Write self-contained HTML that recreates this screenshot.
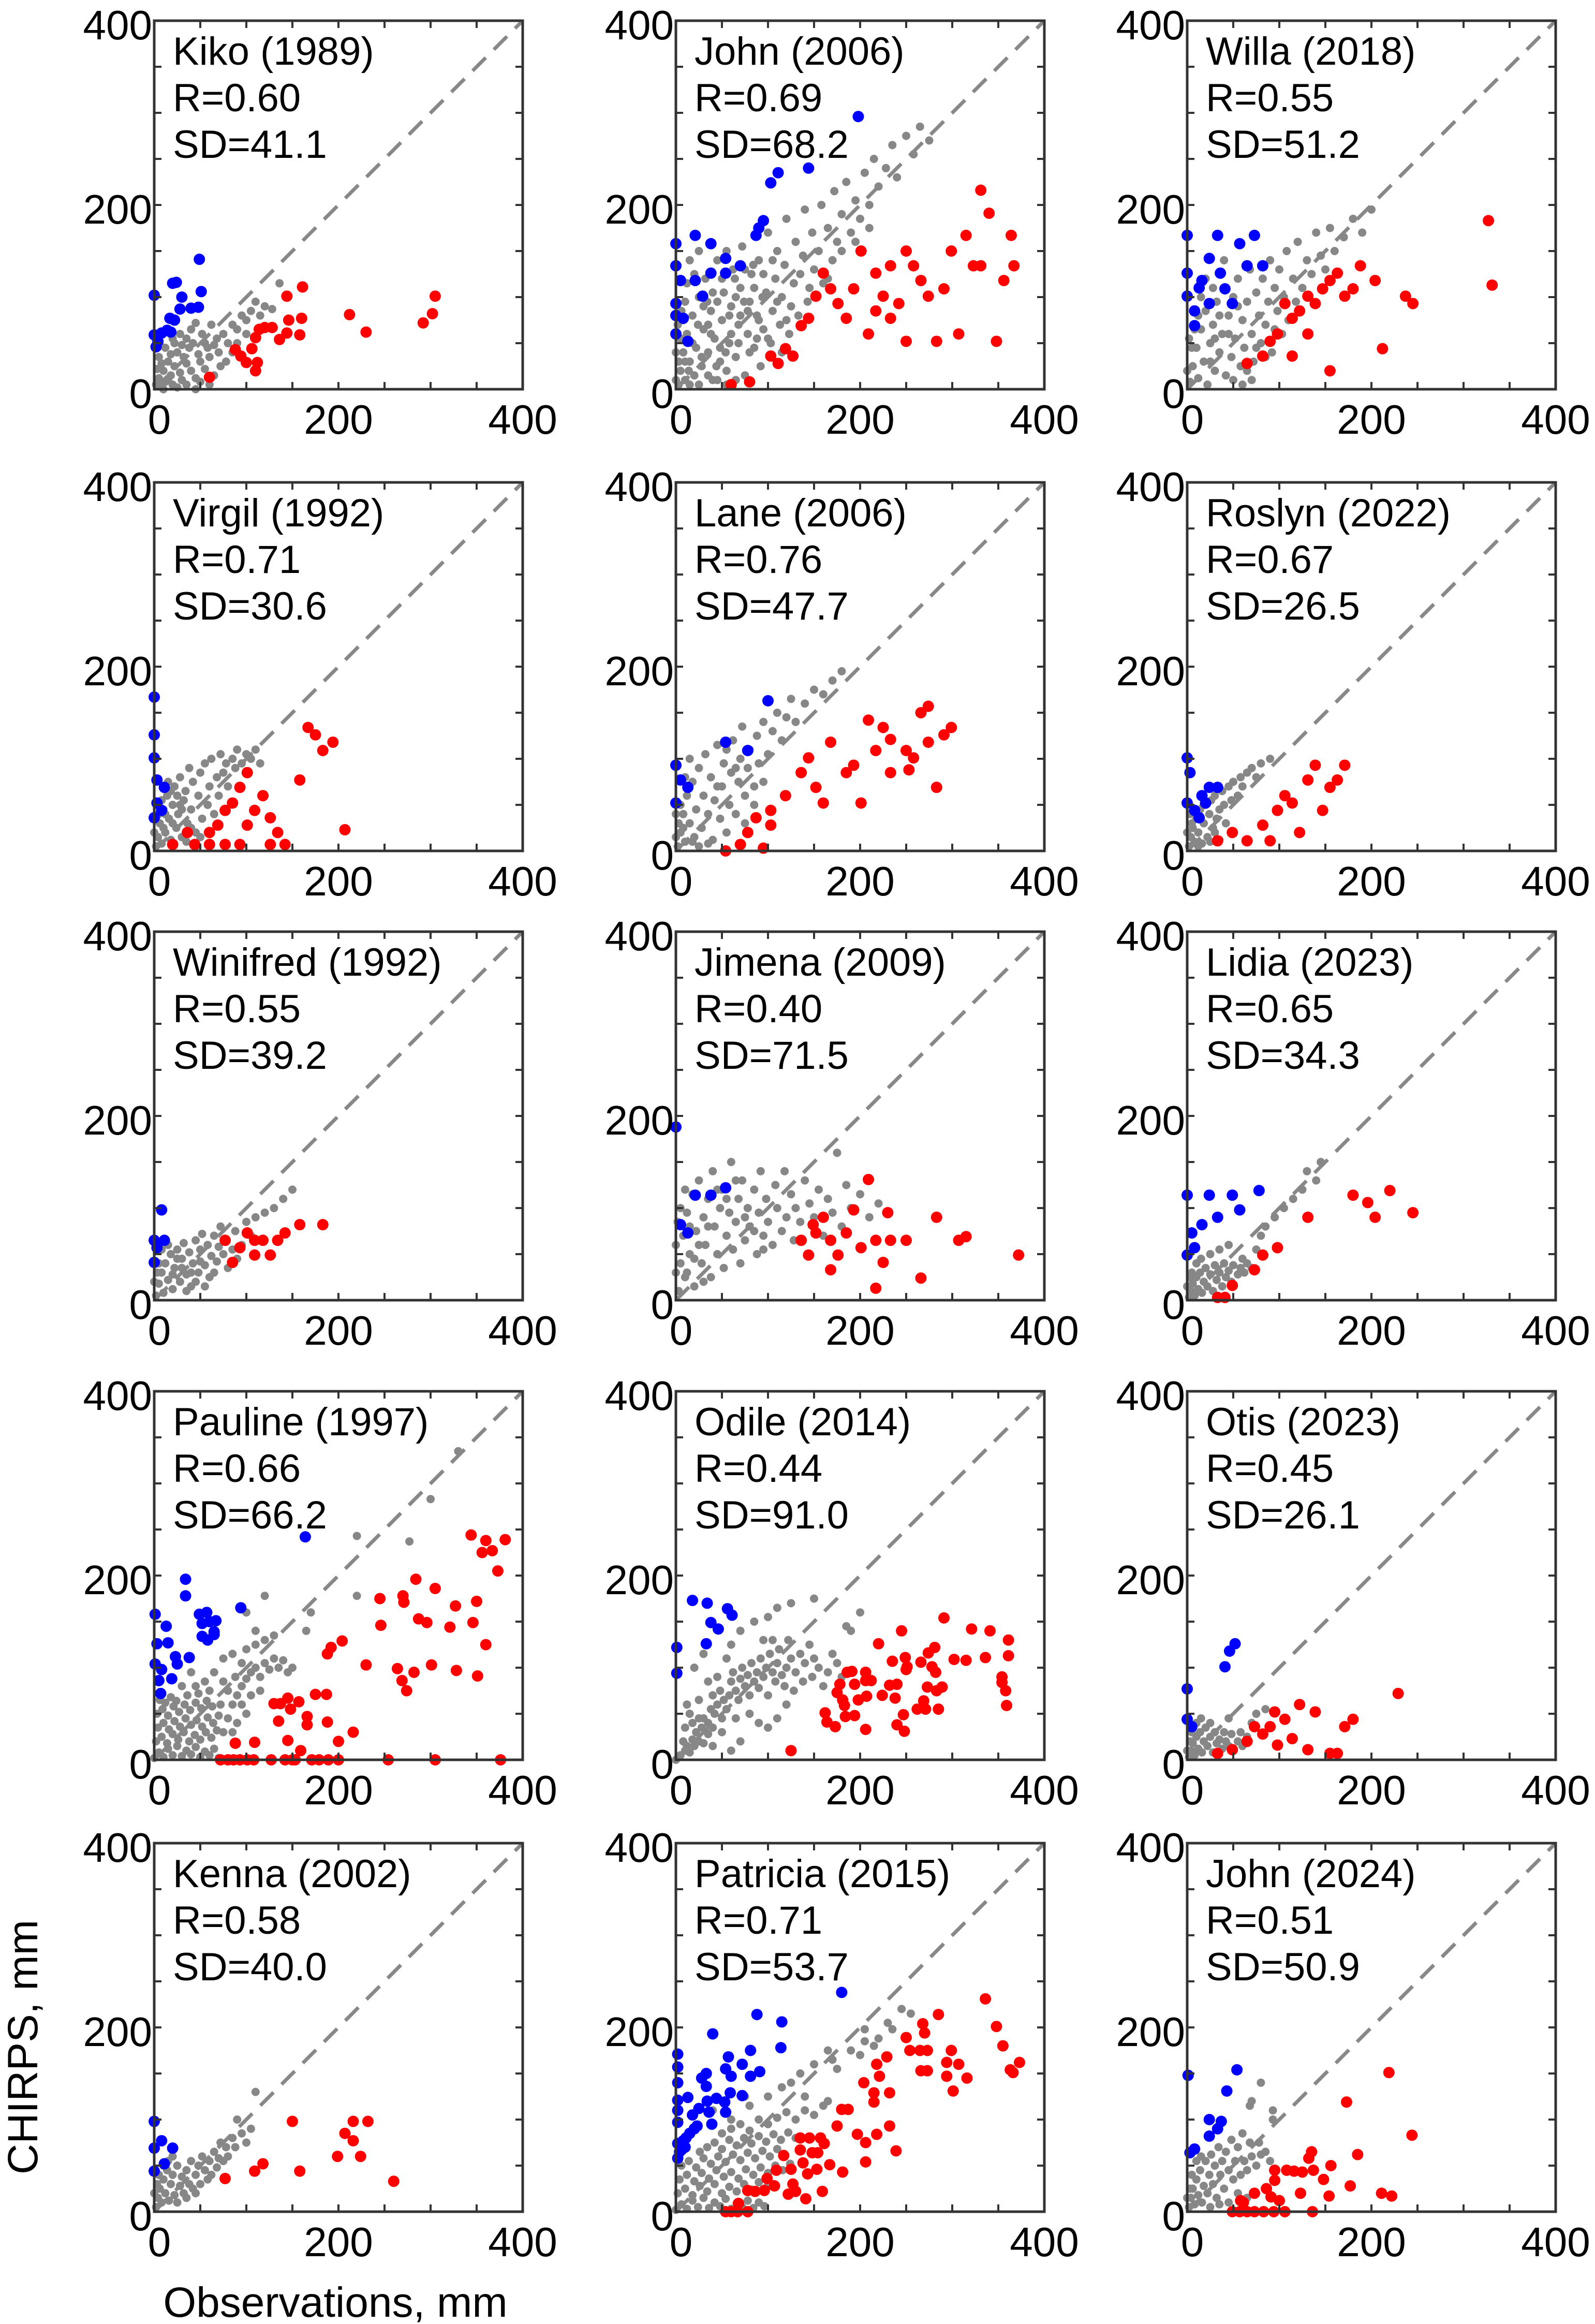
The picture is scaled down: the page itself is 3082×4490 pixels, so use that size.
<!DOCTYPE html>
<html><head><meta charset="utf-8"><style>
html,body{margin:0;padding:0;background:#fff;}
svg{display:block;font-family:"Liberation Sans",Arial,sans-serif;}
</style></head><body>
<svg id="fig" width="3082" height="4490" viewBox="0 0 3082 4490" xmlns="http://www.w3.org/2000/svg">
<rect width="3082" height="4490" fill="#fff"/>
<text x="72" y="3955" font-size="82" text-anchor="middle" transform="rotate(-90 72 3955)">CHIRPS, mm</text>
<text x="648" y="4476" font-size="82" text-anchor="middle">Observations, mm</text>
</svg>
<script>
const stormNames=["Kiko (1989)","John (2006)","Willa (2018)","Virgil (1992)","Lane (2006)","Roslyn (2022)","Winifred (1992)","Jimena (2009)","Lidia (2023)","Pauline (1997)","Odile (2014)","Otis (2023)","Kenna (2002)","Patricia (2015)","John (2024)"];
const rValues=["0.60","0.69","0.55","0.71","0.76","0.67","0.55","0.40","0.65","0.66","0.44","0.45","0.58","0.71","0.51"];
const sdValues=["41.1","68.2","51.2","30.6","47.7","26.5","39.2","71.5","34.3","66.2","91.0","26.1","40.0","53.7","50.9"];
const tickLabels=["0","200","400"];
const tickValues=[0,200,400];

const kikoGray=[[2,5],[5,12],[8,3],[10,20],[12,8],[15,30],[18,15],[20,5],[22,25],[25,40],[28,18],[30,10],[32,35],[35,28],[38,45],[40,20],[42,50],[45,12],[48,38],[50,30],[52,60],[55,22],[58,45],[60,35],[62,70],[65,15],[68,55],[70,40],[72,25],[75,60],[80,50],[85,70],[90,65],[95,80],[100,75],[105,85],[110,95],[115,80],[120,90],[128,87],[136,115],[5,35],[8,28],[12,45],[15,10],[3,22],[6,48],[18,38],[22,50],[28,60],[35,55],[40,65],[45,72],[25,2],[35,5],[50,8],[60,5],[45,0],[10,0],[20,55],[30,48],[55,50],[65,48],[78,30],[85,40],[90,50],[100,60]];
const kikoBlue=[[0,102],[0,59],[2,46],[20,115],[24,116],[30,100],[28,87],[40,88],[48,89],[49,141],[51,106],[17,77],[22,75],[14,64],[8,61],[18,62],[4,52]];
const kikoRed=[[60,13],[88,43],[94,36],[100,29],[110,20],[112,29],[106,44],[110,56],[114,65],[120,67],[128,67],[136,54],[144,101],[146,75],[144,61],[158,59],[160,77],[161,111],[212,81],[230,62],[292,72],[302,82],[305,101]];

const john06Gray=[[3,5],[5,20],[8,40],[10,10],[12,60],[15,30],[18,80],[20,15],[22,45],[25,100],[28,25],[30,65],[32,120],[35,40],[38,85],[40,10],[42,55],[45,140],[48,30],[50,75],[52,105],[55,20],[58,50],[60,90],[62,130],[65,35],[68,70],[70,110],[72,155],[75,15],[78,60],[80,95],[82,125],[85,45],[88,80],[90,140],[92,25],[95,65],[98,105],[100,170],[103,50],[105,85],[108,120],[110,150],[113,70],[115,100],[118,135],[120,185],[123,60],[125,90],[128,115],[130,160],[133,80],[135,125],[138,145],[140,195],[143,95],[145,110],[148,170],[150,130],[155,150],[158,200],[160,115],[165,175],[170,140],[172,215],[175,160],[180,190],[185,225],[190,170],[195,205],[200,185],[205,235],[210,200],[215,250],[220,220],[228,240],[235,265],[240,230],[250,275],[258,255],[265,285],[275,270],[5,55],[8,75],[10,95],[12,115],[15,140],[3,30],[20,125],[25,150],[30,90],[35,70],[40,105],[45,95],[50,120],[55,150],[60,60],[65,100],[70,80],[75,130],[80,40],[85,110],[90,75],[95,125],[100,55],[105,140],[110,95],[115,40],[120,75],[0,10],[0,40],[2,70],[10,30],[15,5],[25,5],[35,15],[45,10],[55,5],[65,10],[180,150],[165,120],[195,160],[210,175],[18,50],[28,35],[38,60],[48,45],[58,80],[68,50],[78,85],[88,55],[6,85],[14,20],[24,70],[34,95],[44,25],[54,40],[64,120],[74,95],[84,135],[94,100]];
const john06Blue=[[0,158],[0,134],[5,118],[0,93],[8,77],[21,167],[38,158],[54,126],[38,126],[21,118],[70,134],[87,167],[95,183],[103,224],[111,235],[144,240],[90,175],[13,52],[29,101],[54,142],[198,296],[0,80],[0,60]];
const john06Red=[[111,28],[119,44],[136,69],[144,77],[152,101],[168,109],[176,93],[160,126],[193,109],[201,150],[217,85],[225,101],[233,77],[242,93],[250,150],[258,134],[266,118],[274,101],[283,52],[299,150],[315,167],[323,134],[331,216],[340,191],[348,52],[356,118],[364,167],[367,134],[127,36],[103,36],[307,60],[209,60],[250,52],[185,77],[233,134],[291,109],[331,134],[217,126],[60,5],[80,8]];

const willaGray=[[3,8],[6,25],[10,45],[12,12],[15,65],[18,30],[20,85],[22,5],[25,50],[28,70],[30,20],[32,95],[35,40],[38,60],[40,110],[42,15],[45,80],[48,35],[50,100],[52,55],[55,120],[58,25],[60,75],[62,45],[65,95],[68,130],[70,60],[72,30],[75,105],[78,80],[80,50],[82,120],[85,70],[88,95],[90,140],[92,40],[95,110],[98,85],[100,130],[103,60],[105,100],[108,150],[110,75],[115,120],[118,95],[120,160],[125,110],[130,140],[135,125],[140,170],[145,145],[150,130],[155,175],[160,150],[170,165],[180,185],[190,170],[200,195],[5,45],[8,65],[15,100],[20,120],[25,30],[30,55],[35,80],[45,60],[55,90],[65,20],[75,45],[85,35],[95,65],[0,20],[2,55],[12,80],[28,110],[40,140],[50,10],[60,5],[70,10]];
const willaBlue=[[0,167],[0,126],[0,101],[8,85],[16,118],[24,142],[33,167],[41,109],[57,158],[65,134],[49,93],[73,167],[82,134],[8,69],[24,93],[36,126],[13,110]];
const willaRed=[[65,28],[82,36],[90,52],[98,60],[114,77],[122,85],[131,101],[139,93],[147,109],[155,118],[163,126],[171,101],[180,109],[188,134],[204,118],[212,44],[237,101],[245,93],[155,20],[114,36],[327,183],[331,113],[131,60],[106,93]];

const virgilGray=[[2,5],[4,15],[6,30],[8,8],[10,45],[12,20],[14,60],[16,35],[18,12],[20,50],[22,70],[24,25],[26,40],[28,80],[30,15],[32,55],[34,65],[36,30],[38,90],[40,45],[42,75],[45,20],[48,60],[50,85],[52,35],[55,95],[58,50],[60,70],[62,100],[65,40],[68,80],[70,60],[72,105],[75,85],[78,95],[80,70],[85,100],[88,90],[90,110],[95,95],[100,105],[105,100],[110,110],[115,95],[5,40],[8,55],[10,25],[15,75],[20,30],[25,60],[30,45],[35,10],[40,25],[45,5],[50,15],[0,20],[3,50],[12,40],[18,65],[28,50]];
const virgilBlue=[[0,167],[0,126],[0,101],[3,77],[3,52],[11,69],[0,36],[8,44]];
const virgilRed=[[20,7],[44,7],[60,7],[77,7],[93,7],[126,7],[142,7],[69,28],[77,44],[85,52],[93,69],[101,85],[109,44],[118,60],[126,36],[158,77],[167,134],[175,126],[183,109],[194,118],[207,23],[60,20],[101,28],[134,20],[36,20]];

const laneGray=[[2,5],[5,20],[8,40],[10,10],[12,60],[15,30],[18,75],[20,15],[22,45],[25,90],[28,25],[30,60],[32,105],[35,40],[38,80],[40,12],[42,55],[45,115],[48,35],[50,70],[52,95],[55,20],[58,50],[60,85],[62,120],[65,40],[68,75],[70,100],[72,135],[75,60],[78,90],[80,110],[85,70],[88,125],[90,95],[95,140],[100,105],[105,130],[110,150],[115,120],[120,145],[125,165],[130,140],[140,160],[150,175],[160,170],[170,185],[180,195],[5,50],[10,80],[15,100],[3,30],[25,5],[35,8],[45,70],[55,110],[65,90],[75,30],[85,50],[95,75],[0,15],[0,40],[8,25],[18,10]];
const laneBlue=[[0,93],[5,77],[0,52],[13,69],[54,118],[100,163],[78,109]];
const laneRed=[[54,0],[70,7],[95,3],[78,20],[87,36],[103,44],[119,60],[136,85],[144,101],[152,69],[168,118],[185,85],[193,93],[209,142],[217,109],[225,134],[233,85],[250,109],[258,101],[266,150],[274,157],[283,69],[291,126],[299,134],[160,52],[201,52],[103,28],[233,121],[253,88],[274,118]];

const roslynGray=[[2,5],[4,15],[6,25],[8,10],[10,35],[12,20],[14,45],[16,8],[18,30],[20,50],[22,15],[24,40],[26,55],[28,25],[30,60],[32,35],[35,45],[38,65],[40,50],[42,30],[45,70],[48,55],[50,75],[55,60],[58,80],[60,70],[65,85],[70,90],[75,80],[80,95],[90,100],[5,30],[8,45],[12,5],[18,50],[25,10],[30,20],[35,12],[0,20],[3,40]];
const roslynBlue=[[0,101],[3,85],[0,52],[8,44],[16,60],[24,69],[33,69],[20,52],[13,36]];
const roslynRed=[[33,11],[49,20],[65,11],[82,28],[98,44],[106,60],[114,52],[131,77],[139,93],[155,69],[163,77],[171,93],[122,20],[90,11],[147,44]];

const winifredGray=[[2,5],[5,18],[8,30],[10,8],[12,40],[15,22],[18,50],[20,12],[22,35],[25,55],[28,20],[30,45],[32,62],[35,28],[38,52],[40,15],[42,40],[45,65],[48,30],[50,55],[52,72],[55,38],[58,60],[60,25],[62,48],[65,70],[68,42],[70,58],[72,80],[75,50],[78,65],[80,35],[85,55],[88,75],[90,45],[95,60],[100,85],[105,70],[110,90],[115,65],[120,95],[130,100],[140,110],[150,120],[5,40],[8,55],[15,60],[25,45],[35,10],[45,20],[55,15],[65,30],[0,20],[3,30],[20,28],[30,35],[40,30],[50,42]];
const winifredBlue=[[0,65],[3,57],[8,98],[0,41],[11,65]];
const winifredRed=[[77,65],[93,57],[101,73],[109,49],[118,65],[126,49],[134,65],[142,73],[158,82],[183,82],[85,41],[109,65]];

const jimenaGray=[[3,10],[5,40],[8,70],[10,25],[12,95],[15,50],[18,115],[20,15],[22,75],[25,130],[28,40],[30,90],[32,60],[35,110],[38,25],[40,140],[42,80],[45,50],[48,100],[50,120],[52,35],[55,70],[58,95],[60,150],[62,55],[65,85],[68,110],[70,40],[72,130],[75,65],[78,100],[80,80],[85,120],[88,50],[90,95],[92,140],[95,70],[98,110],[100,85],[105,60],[108,125],[110,100],[115,75],[118,140],[120,90],[125,115],[128,65],[130,100],[135,85],[140,130],[145,105],[150,90],[155,120],[160,70],[165,110],[170,95],[175,160],[180,80],[185,125],[190,100],[200,115],[210,90],[220,105],[5,100],[10,120],[15,80],[25,60],[35,80],[45,120],[55,110],[65,130],[75,90],[85,75],[95,55],[0,30],[0,60],[2,85],[12,30],[20,45],[30,20]];
const jimenaBlue=[[0,188],[5,82],[21,114],[38,114],[54,122],[13,73]];
const jimenaRed=[[136,65],[144,49],[152,73],[160,90],[168,65],[176,49],[185,73],[201,57],[209,131],[217,65],[225,41],[233,65],[250,65],[283,90],[307,65],[315,69],[372,49],[217,13],[266,24],[168,33],[193,98],[230,95],[149,82]];

const lidiaGray=[[2,3],[4,10],[6,18],[8,5],[10,25],[12,12],[14,30],[16,8],[18,20],[20,35],[22,15],[25,28],[28,10],[30,38],[32,22],[35,30],[38,15],[40,40],[42,25],[45,32],[48,20],[50,38],[55,28],[58,35],[60,45],[62,30],[65,40],[70,35],[75,55],[80,70],[85,80],[95,90],[105,100],[115,110],[125,120],[130,140],[140,130],[145,150],[5,30],[10,40],[15,45],[25,50],[35,55],[45,60],[0,15],[3,25]];
const lidiaBlue=[[0,114],[5,73],[0,49],[8,57],[24,114],[49,114],[57,98],[33,90],[78,119],[16,82]];
const lidiaRed=[[33,3],[41,3],[49,16],[73,33],[82,49],[131,90],[180,114],[196,106],[204,90],[220,119],[245,95],[98,57]];

const paulineGray=[[0,2],[5,8],[10,3],[15,12],[20,5],[25,15],[30,4],[35,10],[40,6],[45,14],[50,3],[55,9],[60,5],[65,12],[70,2],[2,20],[8,25],[14,18],[20,28],[26,22],[32,30],[38,20],[44,27],[50,22],[56,30],[62,24],[68,32],[4,35],[10,40],[16,33],[22,42],[28,36],[34,45],[40,38],[46,43],[52,36],[58,46],[64,40],[70,48],[3,50],[9,55],[15,48],[21,58],[27,52],[33,60],[39,54],[45,62],[51,56],[57,64],[63,58],[6,65],[12,62],[18,68],[24,64],[36,70],[48,72],[60,75],[72,60],[75,30],[80,45],[85,60],[90,70],[95,80],[100,88],[105,95],[110,100],[115,90],[120,105],[125,98],[130,110],[135,100],[140,108],[145,95],[150,100],[80,75],[88,90],[95,105],[100,120],[110,125],[120,130],[130,135],[95,60],[105,70],[115,75],[85,30],[90,40],[100,50],[110,140],[100,160],[120,178],[165,140],[170,160],[220,178],[220,243],[277,237],[300,283],[330,335],[75,85],[65,95],[55,85],[45,80],[40,95],[30,80],[85,115],[75,110]];
const paulineBlue=[[1,158],[3,126],[1,104],[5,86],[7,72],[8,98],[13,145],[15,127],[19,88],[23,112],[25,104],[34,196],[34,178],[38,111],[49,158],[52,148],[52,134],[57,160],[58,130],[60,150],[65,139],[67,151],[65,136],[94,165],[164,242]];
const paulineRed=[[72,0],[80,0],[86,0],[93,0],[101,0],[108,0],[127,0],[142,0],[150,0],[153,0],[171,0],[179,0],[189,0],[200,0],[254,0],[305,0],[376,0],[88,18],[109,19],[130,61],[137,61],[145,67],[148,55],[157,63],[135,42],[145,21],[159,10],[166,47],[166,38],[175,71],[187,71],[188,41],[200,20],[216,30],[188,115],[192,122],[204,129],[230,103],[245,175],[246,146],[264,99],[269,86],[274,75],[282,95],[270,178],[271,171],[284,196],[287,153],[296,149],[301,103],[305,186],[321,144],[327,167],[328,97],[346,149],[350,172],[351,91],[360,125],[344,244],[360,238],[356,225],[367,227],[373,205],[381,239]];

const odileGray=[[0,0],[5,5],[10,10],[15,8],[12,15],[20,15],[25,20],[18,22],[30,18],[8,20],[22,30],[28,35],[35,28],[30,45],[35,40],[40,35],[42,50],[45,60],[50,45],[55,55],[38,55],[40,70],[48,75],[52,65],[58,70],[60,85],[65,75],[62,95],[68,65],[70,88],[72,100],[75,80],[78,92],[80,70],[82,105],[85,85],[88,95],[90,78],[92,110],[95,90],[98,100],[100,70],[102,115],[105,95],[108,85],[110,105],[112,120],[115,92],[118,80],[120,100],[122,130],[125,110],[128,75],[130,95],[135,115],[138,85],[140,105],[145,125],[148,90],[150,110],[155,100],[160,80],[165,95],[170,115],[175,105],[180,90],[185,145],[190,140],[200,160],[150,175],[125,170],[110,165],[100,155],[85,150],[70,140],[60,125],[55,110],[45,90],[35,85],[25,65],[15,50],[10,35],[20,100],[30,115],[12,60],[50,30],[65,45],[80,50],[90,40],[100,35],[110,45],[120,60],[70,20],[60,10],[40,15],[18,40],[25,45],[105,130],[95,130]];
const odileBlue=[[18,173],[34,170],[56,164],[61,157],[38,149],[46,142],[33,126],[1,122],[1,94]];
const odileRed=[[125,10],[162,51],[164,41],[173,36],[178,82],[175,73],[181,65],[183,59],[186,95],[191,96],[184,47],[194,48],[194,82],[198,65],[206,95],[206,86],[207,69],[206,33],[212,86],[220,126],[224,70],[232,81],[235,107],[240,82],[238,67],[240,38],[245,140],[247,49],[248,31],[249,111],[250,98],[251,101],[262,55],[266,106],[269,64],[271,55],[273,79],[274,116],[278,101],[281,122],[282,95],[283,75],[285,55],[289,79],[291,154],[302,109],[315,108],[321,142],[336,111],[341,140],[354,90],[354,84],[358,75],[359,59],[361,130],[361,113]];

const otisGray=[[2,3],[4,10],[6,18],[8,5],[10,25],[12,12],[14,30],[16,8],[18,20],[20,35],[22,15],[25,25],[28,8],[30,30],[32,18],[35,22],[38,12],[40,30],[42,20],[45,15],[48,28],[50,10],[55,20],[58,30],[60,15],[65,25],[70,40],[75,50],[5,30],[10,40],[15,45],[3,20],[0,10],[25,40],[45,45],[85,55]];
const otisBlue=[[0,77],[0,44],[5,36],[46,118],[52,126],[41,101]];
const otisRed=[[33,7],[49,11],[65,20],[82,28],[90,36],[98,16],[106,44],[114,23],[122,60],[131,11],[139,52],[155,7],[163,7],[171,36],[180,44],[229,72],[73,36],[95,52]];

const kennaGray=[[2,5],[4,15],[6,25],[8,10],[10,35],[12,20],[14,45],[16,12],[18,30],[20,40],[22,18],[25,50],[28,28],[30,38],[32,20],[35,45],[38,30],[40,55],[42,25],[45,40],[48,50],[50,30],[52,60],[55,45],[58,35],[60,55],[62,40],[65,65],[68,48],[70,58],[72,75],[75,55],[78,70],[80,60],[85,80],[88,70],[90,100],[95,85],[100,75],[105,90],[110,130],[5,40],[10,50],[15,55],[25,10],[35,15],[45,20],[0,20],[3,30],[20,60]];
const kennaBlue=[[0,98],[0,69],[8,77],[20,69],[11,52],[0,44]];
const kennaRed=[[77,36],[109,44],[118,52],[150,98],[158,44],[199,60],[207,85],[216,98],[232,98],[224,60],[260,33],[216,77]];

const patriciaGray=[[0,2],[6,8],[12,3],[18,12],[24,5],[30,15],[36,4],[42,10],[48,6],[54,14],[60,3],[66,9],[72,5],[78,12],[84,4],[90,10],[96,6],[2,20],[10,25],[18,18],[26,28],[34,22],[42,30],[50,20],[58,27],[66,22],[74,30],[82,24],[90,32],[98,26],[106,30],[4,35],[12,40],[20,33],[28,42],[36,36],[44,45],[52,38],[60,43],[68,36],[76,46],[84,40],[92,48],[100,42],[108,50],[116,45],[124,52],[6,50],[14,55],[22,48],[30,58],[38,52],[46,60],[54,54],[62,62],[70,56],[78,64],[86,58],[94,66],[102,60],[110,68],[118,62],[26,65],[34,70],[42,75],[50,68],[58,78],[66,72],[74,80],[82,74],[90,82],[98,76],[106,84],[114,78],[122,86],[130,80],[50,85],[60,90],[70,95],[80,88],[90,100],[100,95],[110,102],[120,108],[130,100],[140,110],[150,105],[160,115],[165,120],[100,125],[115,135],[125,140],[135,150],[140,125],[150,160],[165,175],[170,165],[175,155],[190,175],[200,170],[205,185],[215,180],[205,198],[220,188],[230,205],[235,198],[245,220],[255,215],[40,110],[50,120],[60,100],[80,115],[75,125]];
const patriciaBlue=[[2,171],[2,157],[2,140],[2,121],[2,110],[2,97],[2,74],[2,58],[6,67],[11,80],[13,124],[18,105],[23,93],[25,112],[28,145],[33,150],[33,136],[34,120],[36,108],[39,95],[40,193],[44,123],[53,119],[54,155],[54,108],[57,168],[59,129],[60,147],[72,160],[72,126],[81,175],[81,147],[88,214],[91,152],[114,178],[115,206],[180,238],[15,85],[8,77],[20,90],[4,65],[10,70]];
const patriciaRed=[[54,0],[60,0],[67,0],[78,0],[68,9],[78,23],[86,22],[96,23],[99,36],[107,28],[109,45],[117,61],[122,19],[125,46],[127,30],[130,22],[135,80],[135,67],[138,53],[143,41],[141,14],[145,80],[148,64],[153,46],[154,64],[157,80],[159,22],[161,74],[167,51],[175,93],[180,111],[187,111],[181,43],[197,84],[206,75],[206,54],[204,140],[215,129],[215,119],[218,160],[218,84],[221,147],[229,168],[232,129],[232,93],[239,66],[250,189],[254,175],[265,175],[268,204],[270,194],[266,153],[273,175],[273,153],[285,214],[294,162],[294,147],[299,175],[301,131],[307,160],[316,145],[336,231],[348,201],[355,180],[363,154],[366,151],[373,162]];

const john24Gray=[[2,5],[4,15],[6,25],[8,8],[10,35],[12,18],[14,45],[16,10],[18,28],[20,55],[22,20],[24,40],[26,62],[28,30],[30,50],[32,15],[34,70],[36,40],[38,55],[40,25],[42,65],[45,45],[48,78],[50,35],[52,55],[55,70],[58,40],[60,85],[62,55],[65,45],[68,75],[70,60],[75,50],[78,75],[80,62],[85,65],[90,55],[93,110],[93,100],[80,140],[70,120],[68,115],[5,40],[10,55],[15,60],[3,25],[0,15],[25,5],[35,8],[45,10],[55,20],[65,15]];
const john24Blue=[[1,148],[3,64],[8,68],[24,100],[24,82],[33,90],[37,98],[43,131],[54,154]];
const john24Red=[[49,0],[57,0],[65,0],[73,0],[83,0],[94,0],[106,0],[136,0],[61,10],[58,12],[73,20],[86,25],[91,16],[100,12],[95,34],[95,45],[108,45],[116,44],[125,43],[123,20],[132,58],[135,65],[137,45],[148,35],[156,50],[154,17],[173,119],[177,28],[185,62],[211,20],[219,151],[222,17],[244,83]];

const grayPts=[kikoGray,john06Gray,willaGray,virgilGray,laneGray,roslynGray,winifredGray,jimenaGray,lidiaGray,paulineGray,odileGray,otisGray,kennaGray,patriciaGray,john24Gray];
const bluePts=[kikoBlue,john06Blue,willaBlue,virgilBlue,laneBlue,roslynBlue,winifredBlue,jimenaBlue,lidiaBlue,paulineBlue,odileBlue,otisBlue,kennaBlue,patriciaBlue,john24Blue];
const redPts=[kikoRed,john06Red,willaRed,virgilRed,laneRed,roslynRed,winifredRed,jimenaRed,lidiaRed,paulineRed,odileRed,otisRed,kennaRed,patriciaRed,john24Red];

const NS="http://www.w3.org/2000/svg";
const svg=document.getElementById('fig');
const colL=[298,1306,2294], rowT=[40,932,1800,2688,3561], W=712, H=712;
function mk(tag,attrs,parent){const e=document.createElementNS(NS,tag);for(const k in attrs)e.setAttribute(k,attrs[k]);parent.appendChild(e);return e;}

for(let p=0;p<15;p++){
  const L=colL[p%3], T=rowT[Math.floor(p/3)], B=T+H, R=L+W;
  const sx=v=>L+v/400*W, sy=v=>B-v/400*H;
  const g=mk('g',{},svg);
  
  
  const d=mk('line',{x1:sx(0),y1:sy(0),x2:sx(400),y2:sy(400),stroke:'#888','stroke-width':7,'stroke-dasharray':'36 22'},g);
  
  
  const series=[[grayPts[p],8,'#878787','gray-point'],[bluePts[p],11,'#0000ff','blue-point'],[redPts[p],11,'#ff0000','red-point']];
  for(const s of series){
    for(const pt of s[0]){
      const c=mk('circle',{cx:sx(pt[0]),cy:sy(pt[1]),r:s[1],fill:s[2]},g);
      
      
    }
  }
  for(let v=50;v<400;v+=50){
    mk('line',{x1:sx(v),y1:B,x2:sx(v),y2:B-14,stroke:'#333','stroke-width':4},g);
    mk('line',{x1:sx(v),y1:T,x2:sx(v),y2:T+14,stroke:'#333','stroke-width':4},g);
    mk('line',{x1:L,y1:sy(v),x2:L+14,y2:sy(v),stroke:'#333','stroke-width':4},g);
    mk('line',{x1:R,y1:sy(v),x2:R-14,y2:sy(v),stroke:'#333','stroke-width':4},g);
  }
  const fr=mk('rect',{x:L,y:T,width:W,height:H,fill:'none',stroke:'#333','stroke-width':5},g);
  
  
  for(let i=0;i<tickValues.length;i++){
    const yl=mk('text',{x:L-4,y:sy(tickValues[i])+36,'font-size':80,'text-anchor':'end'},g);
    yl.textContent=tickLabels[i];
    
    
    const xl=mk('text',{x:sx(tickValues[i])+(i==0?10:0),y:B+86,'font-size':80,'text-anchor':'middle'},g);
    xl.textContent=tickLabels[i];
    
    
  }
  const lines=[stormNames[p],'R='+rValues[p],'SD='+sdValues[p]];
  const names=['storm-name','correlation-label','sd-label'];
  for(let i=0;i<3;i++){
    const t=mk('text',{x:L+36,y:T+85+i*90,'font-size':76},g);
    t.textContent=lines[i];
    
    
  }
}
</script>
</body></html>
